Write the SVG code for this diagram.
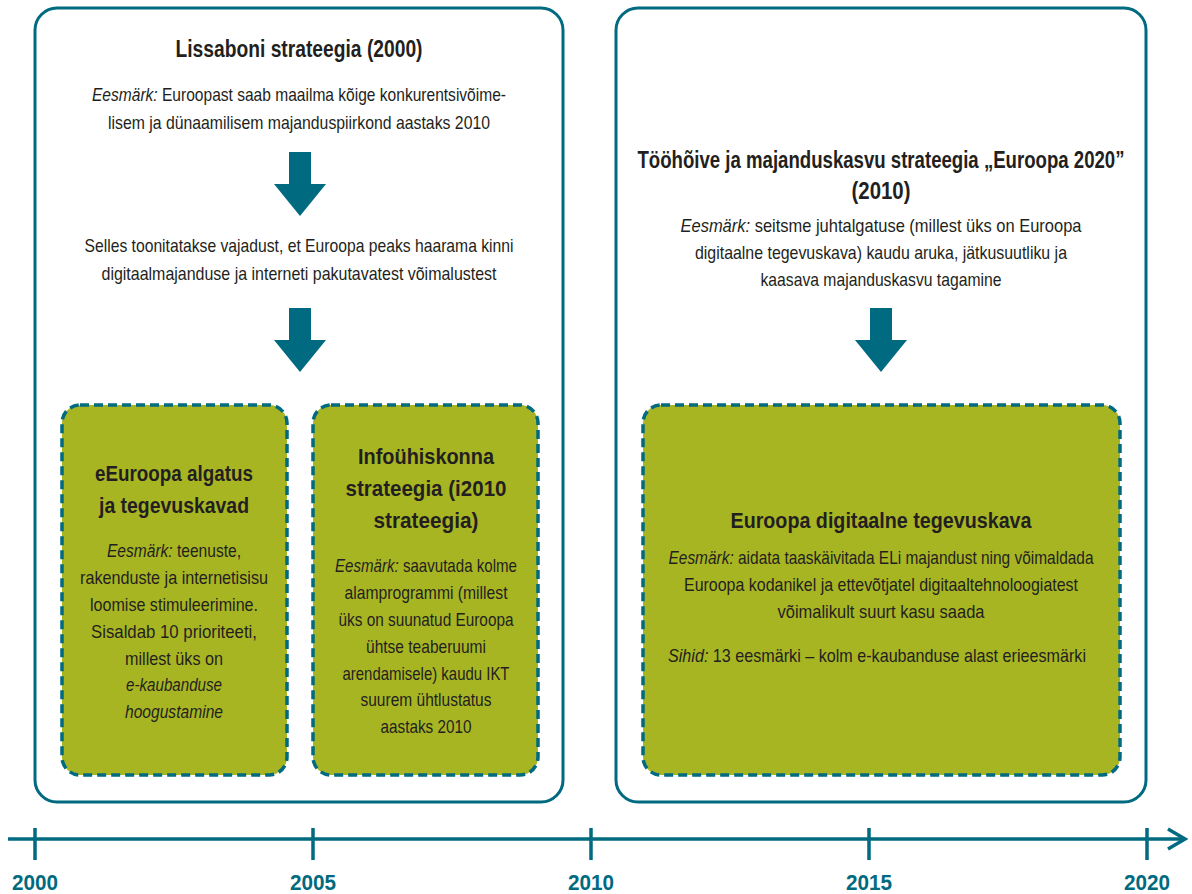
<svg xmlns="http://www.w3.org/2000/svg" width="1192" height="894" viewBox="0 0 1192 894">
<style>
text{font-family:"Liberation Sans",Arial,sans-serif;fill:#231f20;text-anchor:middle}
.t{font-size:23.5px;font-weight:bold}
.s{font-size:22px;font-weight:bold}
.b{font-size:18.5px}
.i{font-style:italic}
.outer{fill:#fff;stroke:#006a80;stroke-width:3}
.green{fill:#a8b523;stroke:#006a80;stroke-width:3.5;stroke-dasharray:9 5}
.arrow{fill:#006a80}
.yr{font-size:22px;font-weight:bold;fill:#006a80}
.axis{stroke:#006a80;stroke-width:3.5;fill:none}
</style>
<g id="lisbon">
<rect class="outer" x="35" y="8" width="528" height="794" rx="22"/>
<text class="t" x="299" y="57" textLength="247" lengthAdjust="spacingAndGlyphs">Lissaboni strateegia (2000)</text>
<text class="b" x="299" y="101" textLength="414" lengthAdjust="spacingAndGlyphs"><tspan class="i">Eesmärk:</tspan> Euroopast saab maailma kõige konkurentsivõime-</text>
<text class="b" x="299" y="129" textLength="382" lengthAdjust="spacingAndGlyphs">lisem ja dünaamilisem majanduspiirkond aastaks 2010</text>
<text class="b" x="299" y="252" textLength="429" lengthAdjust="spacingAndGlyphs">Selles toonitatakse vajadust, et Euroopa peaks haarama kinni</text>
<text class="b" x="299" y="280" textLength="395" lengthAdjust="spacingAndGlyphs">digitaalmajanduse ja interneti pakutavatest võimalustest</text>
</g>
<g id="arrow1"><polygon class="arrow" points="289,152 311,152 311,184 326,184 300,216 274,184 289,184"/></g>
<g id="arrow2"><polygon class="arrow" points="289,308 311,308 311,340 326,340 300,372 274,340 289,340"/></g>
<g id="eeuroopa">
<rect class="green" x="62" y="405" width="225" height="370" rx="18"/>
<text class="s" x="174" y="481" textLength="158" lengthAdjust="spacingAndGlyphs">eEuroopa algatus</text>
<text class="s" x="174" y="513" textLength="150" lengthAdjust="spacingAndGlyphs">ja tegevuskavad</text>
<text class="b" x="174" y="557" textLength="134" lengthAdjust="spacingAndGlyphs"><tspan class="i">Eesmärk:</tspan> teenuste,</text>
<text class="b" x="174" y="584" textLength="188" lengthAdjust="spacingAndGlyphs">rakenduste ja internetisisu</text>
<text class="b" x="174" y="611" textLength="168" lengthAdjust="spacingAndGlyphs">loomise stimuleerimine.</text>
<text class="b" x="174" y="638" textLength="166" lengthAdjust="spacingAndGlyphs">Sisaldab 10 prioriteeti,</text>
<text class="b" x="174" y="665" textLength="98" lengthAdjust="spacingAndGlyphs">millest üks on</text>
<text class="b i" x="174" y="691" textLength="96" lengthAdjust="spacingAndGlyphs">e-kaubanduse</text>
<text class="b i" x="174" y="718" textLength="98" lengthAdjust="spacingAndGlyphs">hoogustamine</text>
</g>
<g id="i2010">
<rect class="green" x="313" y="405" width="225" height="370" rx="18"/>
<text class="s" x="426" y="464" textLength="136" lengthAdjust="spacingAndGlyphs">Infoühiskonna</text>
<text class="s" x="426" y="496" textLength="161" lengthAdjust="spacingAndGlyphs">strateegia (i2010</text>
<text class="s" x="426" y="528" textLength="105" lengthAdjust="spacingAndGlyphs">strateegia)</text>
<text class="b" x="426" y="572" textLength="182" lengthAdjust="spacingAndGlyphs"><tspan class="i">Eesmärk:</tspan> saavutada kolme</text>
<text class="b" x="426" y="599" textLength="163" lengthAdjust="spacingAndGlyphs">alamprogrammi (millest</text>
<text class="b" x="426" y="626" textLength="175" lengthAdjust="spacingAndGlyphs">üks on suunatud Euroopa</text>
<text class="b" x="426" y="653" textLength="120" lengthAdjust="spacingAndGlyphs">ühtse teaberuumi</text>
<text class="b" x="426" y="680" textLength="167" lengthAdjust="spacingAndGlyphs">arendamisele) kaudu IKT</text>
<text class="b" x="426" y="706" textLength="131" lengthAdjust="spacingAndGlyphs">suurem ühtlustatus</text>
<text class="b" x="426" y="733" textLength="91" lengthAdjust="spacingAndGlyphs">aastaks 2010</text>
</g>
<g id="europe2020">
<rect class="outer" x="616" y="8" width="530" height="794" rx="22"/>
<text class="t" x="881" y="168" textLength="487" lengthAdjust="spacingAndGlyphs">Tööhõive ja majanduskasvu strateegia „Euroopa 2020”</text>
<text class="t" x="881" y="199" textLength="59" lengthAdjust="spacingAndGlyphs">(2010)</text>
<text class="b" x="881" y="232" textLength="401" lengthAdjust="spacingAndGlyphs"><tspan class="i">Eesmärk:</tspan> seitsme juhtalgatuse (millest üks on Euroopa</text>
<text class="b" x="881" y="259" textLength="372" lengthAdjust="spacingAndGlyphs">digitaalne tegevuskava) kaudu aruka, jätkusuutliku ja</text>
<text class="b" x="881" y="286" textLength="241" lengthAdjust="spacingAndGlyphs">kaasava majanduskasvu tagamine</text>
</g>
<g id="arrow3"><polygon class="arrow" points="870,308 892,308 892,340 907,340 881,372 855,340 870,340"/></g>
<g id="digital">
<rect class="green" x="643" y="405" width="477" height="370" rx="18"/>
<text class="s" x="881" y="528" textLength="301" lengthAdjust="spacingAndGlyphs">Euroopa digitaalne tegevuskava</text>
<text class="b" x="881" y="564" textLength="425" lengthAdjust="spacingAndGlyphs"><tspan class="i">Eesmärk:</tspan> aidata taaskäivitada ELi majandust ning võimaldada</text>
<text class="b" x="881" y="591" textLength="394" lengthAdjust="spacingAndGlyphs">Euroopa kodanikel ja ettevõtjatel digitaaltehnoloogiatest</text>
<text class="b" x="881" y="618" textLength="207" lengthAdjust="spacingAndGlyphs">võimalikult suurt kasu saada</text>
<text class="b" x="877" y="662" textLength="418" lengthAdjust="spacingAndGlyphs"><tspan class="i">Sihid:</tspan> 13 eesmärki – kolm e-kaubanduse alast erieesmärki</text>
</g>
<g id="timeline">
<line class="axis" x1="8" y1="839" x2="1184" y2="839"/>
<polyline class="axis" points="1168,829 1185,839 1168,849"/>
<line class="axis" x1="35" y1="828" x2="35" y2="860"/>
<line class="axis" x1="313" y1="828" x2="313" y2="860"/>
<line class="axis" x1="591" y1="828" x2="591" y2="860"/>
<line class="axis" x1="869" y1="828" x2="869" y2="860"/>
<line class="axis" x1="1147" y1="828" x2="1147" y2="860"/>
<text class="yr" x="35" y="890" textLength="46" lengthAdjust="spacingAndGlyphs">2000</text>
<text class="yr" x="313" y="890" textLength="46" lengthAdjust="spacingAndGlyphs">2005</text>
<text class="yr" x="591" y="890" textLength="46" lengthAdjust="spacingAndGlyphs">2010</text>
<text class="yr" x="869" y="890" textLength="46" lengthAdjust="spacingAndGlyphs">2015</text>
<text class="yr" x="1147" y="890" textLength="46" lengthAdjust="spacingAndGlyphs">2020</text>
</g>
</svg>
